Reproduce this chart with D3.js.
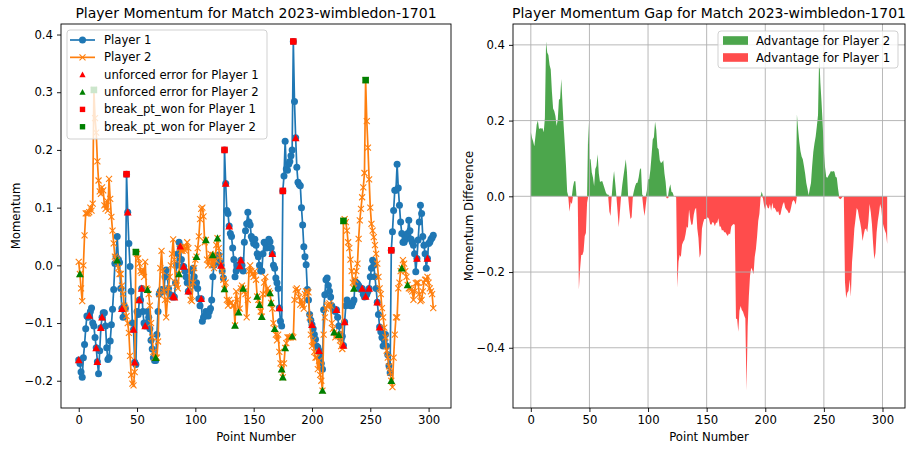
<!DOCTYPE html>
<html lang="en">
<head>
<meta charset="UTF-8">
<title>Player Momentum for Match 2023-wimbledon-1701</title>
<script src="https://d3js.org/d3.v7.min.js"></script>
<style>
  body { margin: 0; background: #fff; }
  svg { font-family: "DejaVu Sans", sans-serif; }
</style>
</head>
<body>
<svg id="chart" width="912" height="449"></svg>
<script>
// momentum of each player, one value per point
const p1 = [
  -0.164,-0.170,-0.185,-0.194,-0.160,-0.137,-0.110,-0.088,-0.090,-0.087,
  -0.080,-0.074,-0.100,-0.105,-0.125,-0.143,-0.167,-0.188,-0.148,-0.108,
  -0.090,-0.082,-0.082,-0.105,-0.143,-0.163,-0.160,-0.131,-0.103,-0.076,
  -0.042,0.003,0.015,0.050,0.010,0.005,-0.040,-0.075,-0.090,-0.070,
  -0.075,0.158,0.092,0.038,-0.002,-0.045,-0.100,-0.111,-0.168,-0.172,
  -0.080,-0.085,-0.060,-0.060,-0.040,-0.080,-0.100,-0.105,-0.100,-0.080,
  -0.090,-0.110,-0.130,-0.145,-0.160,-0.165,-0.165,-0.120,-0.080,-0.050,
  -0.045,-0.042,-0.045,-0.045,-0.020,-0.008,-0.020,-0.040,-0.050,-0.053,
  -0.055,-0.053,-0.055,-0.030,0.000,0.020,0.040,0.033,0.010,-0.002,
  -0.002,-0.010,-0.020,-0.030,-0.045,-0.045,-0.030,-0.010,-0.005,-0.020,
  -0.035,-0.030,-0.040,-0.058,-0.070,-0.058,-0.097,-0.090,-0.088,-0.080,
  -0.085,-0.088,-0.080,-0.075,-0.060,-0.020,0.000,0.015,0.015,0.015,
  0.018,0.005,0.000,-0.010,-0.022,0.200,0.142,0.095,0.090,0.068,
  0.055,0.050,0.030,0.010,-0.020,-0.010,0.000,-0.005,-0.001,0.009,
  0.000,-0.010,0.040,0.060,0.072,0.092,0.075,0.070,0.050,0.045,
  0.038,0.045,0.035,0.020,0.015,0.000,-0.010,-0.010,0.020,0.040,
  0.038,0.030,0.040,0.045,0.041,0.030,0.020,0.000,-0.005,-0.022,
  -0.030,-0.040,-0.074,-0.097,-0.105,0.129,0.155,0.215,0.167,0.165,
  0.175,0.180,0.190,0.200,0.388,0.284,0.221,0.170,0.144,0.140,
  0.138,0.100,0.070,0.032,0.015,0.001,-0.042,-0.060,-0.085,-0.095,
  -0.103,-0.110,-0.120,-0.128,-0.140,-0.142,-0.148,-0.158,-0.170,-0.180,
  -0.077,-0.051,-0.025,-0.022,-0.035,-0.045,-0.055,-0.070,-0.075,-0.078,
  -0.080,-0.077,-0.090,-0.105,-0.120,-0.126,-0.123,-0.139,-0.098,-0.070,
  -0.060,-0.065,-0.068,-0.070,-0.070,-0.065,-0.060,-0.028,-0.030,-0.032,
  -0.035,-0.040,-0.042,-0.040,-0.050,-0.055,-0.054,-0.050,-0.045,-0.040,
  -0.020,-0.005,0.009,0.000,-0.020,-0.040,-0.064,-0.085,-0.107,-0.115,
  -0.125,-0.140,-0.130,-0.120,-0.140,-0.155,-0.174,-0.186,0.026,0.058,
  0.095,0.130,0.130,0.175,0.134,0.104,0.075,0.055,0.040,0.040,
  0.045,0.050,0.055,0.078,0.060,0.045,0.040,0.035,0.020,-0.011,
  0.012,0.044,0.075,0.104,0.090,0.050,0.035,0.020,-0.005,0.012,
  0.038,0.040,0.045,0.048,0.052
];
const p2 = [
  0.006,-0.015,-0.040,-0.062,0.000,0.052,0.090,0.090,0.090,0.092,
  0.100,0.095,0.107,0.304,0.255,0.230,0.180,0.147,0.128,0.124,
  0.135,0.130,0.104,0.098,0.112,0.095,0.150,0.115,0.084,0.060,
  0.038,0.015,0.012,0.009,-0.005,-0.015,-0.015,-0.035,-0.050,-0.070,
  -0.075,-0.088,-0.100,-0.117,-0.157,-0.190,-0.205,-0.208,-0.185,0.023,
  0.020,0.012,0.003,-0.010,-0.013,-0.008,-0.020,0.006,-0.040,-0.042,
  -0.050,-0.070,-0.100,-0.125,-0.150,-0.160,-0.160,-0.160,-0.132,-0.050,
  -0.005,0.025,-0.010,-0.045,-0.060,-0.090,-0.060,-0.040,-0.020,0.000,
  0.020,0.045,0.010,-0.030,-0.035,-0.040,-0.015,0.030,0.025,0.025,
  0.033,0.026,0.030,0.040,0.030,-0.040,-0.060,-0.062,-0.030,-0.005,
  0.010,0.015,0.030,0.050,0.080,0.098,0.100,0.085,0.040,0.044,
  0.010,0.000,0.010,0.020,0.000,0.018,-0.005,0.010,0.035,0.047,
  0.030,0.015,0.000,-0.010,-0.025,-0.041,-0.030,-0.060,-0.070,-0.060,
  -0.065,-0.065,-0.070,-0.070,-0.104,-0.045,-0.060,-0.081,-0.075,-0.040,
  -0.035,-0.040,-0.045,-0.050,-0.090,-0.060,-0.010,0.000,-0.010,-0.015,
  -0.020,-0.010,-0.025,-0.054,-0.060,-0.068,-0.080,-0.089,-0.050,-0.030,
  -0.020,-0.050,-0.040,-0.045,-0.048,-0.065,-0.075,-0.100,-0.110,-0.120,
  -0.130,-0.120,-0.150,-0.170,-0.180,-0.194,-0.170,-0.143,-0.135,-0.125,
  -0.125,-0.125,-0.125,-0.123,-0.125,-0.060,-0.042,-0.040,-0.045,-0.055,
  -0.068,-0.060,-0.070,-0.075,-0.050,-0.045,-0.045,-0.047,-0.090,-0.120,
  -0.140,-0.130,-0.150,-0.160,-0.160,-0.180,-0.165,-0.190,-0.200,-0.217,
  -0.120,-0.090,-0.075,-0.070,-0.068,-0.066,-0.070,-0.100,-0.110,-0.116,
  -0.125,-0.120,-0.120,-0.120,-0.130,-0.140,-0.145,0.077,0.080,0.075,
  0.060,0.040,0.030,0.010,-0.010,-0.030,-0.040,-0.025,-0.010,0.003,
  0.046,0.078,0.098,0.118,0.135,0.160,0.321,0.250,0.204,0.149,
  0.100,0.072,0.060,0.049,0.035,0.020,0.003,-0.020,-0.040,-0.050,
  -0.074,-0.090,-0.108,-0.125,-0.148,-0.160,-0.175,-0.186,-0.200,-0.211,
  -0.160,-0.120,-0.090,-0.090,-0.040,-0.030,-0.010,-0.005,0.009,0.003,
  -0.010,-0.020,-0.034,-0.040,-0.040,-0.042,-0.045,-0.060,-0.045,-0.031,
  -0.030,-0.030,-0.050,-0.062,-0.060,-0.045,-0.030,-0.025,-0.025,-0.020,
  -0.030,-0.040,-0.045,-0.050,-0.074
];

// point numbers where events happened
const ueP1 = [0, 9, 15, 16, 19, 20, 37, 42, 47, 48, 52, 54, 57, 81, 82, 87, 90, 94, 105, 122,
              126, 129, 138, 139, 166, 172, 186, 200, 206, 221, 227, 228, 243, 246, 249, 256, 258, 290, 299];
const ueP2 = [1, 33, 59, 66, 86, 101, 109, 115, 119, 125, 134, 137, 141, 153, 155, 157, 164, 165,
              168, 174, 175, 177, 183, 209, 219, 223, 236, 268, 277, 282];
const bpP1 = [41, 125, 175, 184, 268];
const bpP2 = [13, 49, 227, 246];

const xTicks = [0, 50, 100, 150, 200, 250, 300];
const yTicksLeft = [-0.2, -0.1, 0.0, 0.1, 0.2, 0.3, 0.4];
const yTicksRight = [-0.4, -0.2, 0.0, 0.2, 0.4];

const BLUE = "#1f77b4", ORANGE = "#ff7f0e";
const FS = 11.7;

// gap = player 2 minus player 1
const gap = p1.map((v, i) => p2[i] - v);

const svg = d3.select("#chart");
const left = { x0: 61, x1: 451, y0: 24, y1: 408 };
const right = { x0: 513, x1: 905, y0: 24, y1: 408 };

// matplotlib-like 5% margins
function pad(ext) {
  const r = ext[1] - ext[0];
  return [ext[0] - 0.05 * r, ext[1] + 0.05 * r];
}

const xL = d3.scaleLinear().domain(pad([0, p1.length - 1])).range([left.x0, left.x1]);
const yL = d3.scaleLinear().domain(pad(d3.extent(p1.concat(p2)))).range([left.y1, left.y0]);
const xR = d3.scaleLinear().domain(pad([0, gap.length - 1])).range([right.x0, right.x1]);
const yR = d3.scaleLinear().domain(pad(d3.extent(gap))).range([right.y1, right.y0]);

function drawAxes(box, xs, ys, yTicks, grid) {
  if (grid) {
    const gg = svg.append("g").attr("class", "grid");
    gg.selectAll("line.gx").data(xTicks).enter().append("line")
      .attr("x1", d => xs(d)).attr("x2", d => xs(d))
      .attr("y1", box.y0).attr("y2", box.y1)
      .attr("stroke", "#b0b0b0").attr("stroke-width", 0.9);
    gg.selectAll("line.gy").data(yTicks).enter().append("line")
      .attr("y1", d => ys(d)).attr("y2", d => ys(d))
      .attr("x1", box.x0).attr("x2", box.x1)
      .attr("stroke", "#b0b0b0").attr("stroke-width", 0.9);
  }
  const gx = svg.append("g")
    .attr("transform", `translate(0,${box.y1})`)
    .call(d3.axisBottom(xs).tickValues(xTicks).tickSize(4).tickPadding(4).tickFormat(d3.format("d")));
  const gy = svg.append("g")
    .attr("transform", `translate(${box.x0},0)`)
    .call(d3.axisLeft(ys).tickValues(yTicks).tickSize(4).tickPadding(4).tickFormat(d3.format(".1f")));
  [gx, gy].forEach(g => {
    g.select(".domain").remove();
    g.attr("font-family", "DejaVu Sans").attr("font-size", FS);
    g.selectAll("text").attr("fill", "#000");
    g.selectAll("line").attr("stroke-width", 0.9);
  });
  svg.append("rect")
    .attr("x", box.x0).attr("y", box.y0)
    .attr("width", box.x1 - box.x0).attr("height", box.y1 - box.y0)
    .attr("fill", "none").attr("stroke", "#000").attr("stroke-width", 0.9);
}

// ---------- left: momentum lines ----------
const line = d3.line().x((d, i) => xL(i)).y(d => yL(d));

svg.append("path").datum(p1).attr("d", line)
  .attr("fill", "none").attr("stroke", BLUE).attr("stroke-width", 1.7);
svg.selectAll("circle.p1").data(p1).enter().append("circle")
  .attr("cx", (d, i) => xL(i)).attr("cy", d => yL(d)).attr("r", 3.5)
  .attr("fill", BLUE);

svg.append("path").datum(p2).attr("d", line)
  .attr("fill", "none").attr("stroke", ORANGE).attr("stroke-width", 1.7);
const xm = 3;
svg.selectAll("path.p2").data(p2).enter().append("path")
  .attr("d", (d, i) => {
    const cx = xL(i), cy = yL(d);
    return `M${cx - xm},${cy - xm}L${cx + xm},${cy + xm}M${cx - xm},${cy + xm}L${cx + xm},${cy - xm}`;
  })
  .attr("stroke", ORANGE).attr("stroke-width", 1.1).attr("fill", "none");

function tri(cx, cy, s) {
  return `M${cx},${cy - s}L${cx - s},${cy + s * 0.85}L${cx + s},${cy + s * 0.85}Z`;
}
function sq(cx, cy, s) {
  return `M${cx - s},${cy - s}h${2 * s}v${2 * s}h${-2 * s}Z`;
}

function events(idx, series, shape, color) {
  svg.append("g").selectAll("path").data(idx).enter().append("path")
    .attr("d", i => shape(xL(i), yL(series[i]), shape === tri ? 3.9 : 3.3))
    .attr("fill", color);
}
events(ueP1, p1, tri, "red");
events(ueP2, p2, tri, "green");
events(bpP1, p1, sq, "red");
events(bpP2, p2, sq, "green");

drawAxes(left, xL, yL, yTicksLeft, false);

// legend (left)
const legL = svg.append("g");
legL.append("rect").attr("x", 67).attr("y", 30).attr("width", 200).attr("height", 109)
  .attr("rx", 3).attr("fill", "#fff").attr("fill-opacity", 0.8)
  .attr("stroke", "#cccccc").attr("stroke-width", 0.9);
const legItems = [
  { label: "Player 1", kind: "p1" },
  { label: "Player 2", kind: "p2" },
  { label: "unforced error for Player 1", kind: "tri", color: "red" },
  { label: "unforced error for Player 2", kind: "tri", color: "green" },
  { label: "break_pt_won for Player 1", kind: "sq", color: "red" },
  { label: "break_pt_won for Player 2", kind: "sq", color: "green" }
];
legItems.forEach((it, k) => {
  const y = 40 + k * 17.35, cx = 82.5;
  if (it.kind === "p1") {
    legL.append("line").attr("x1", 70).attr("x2", 95).attr("y1", y).attr("y2", y)
      .attr("stroke", BLUE).attr("stroke-width", 1.7);
    legL.append("circle").attr("cx", cx).attr("cy", y).attr("r", 3.5).attr("fill", BLUE);
  } else if (it.kind === "p2") {
    legL.append("line").attr("x1", 70).attr("x2", 95).attr("y1", y).attr("y2", y)
      .attr("stroke", ORANGE).attr("stroke-width", 1.7);
    legL.append("path")
      .attr("d", `M${cx - xm},${y - xm}L${cx + xm},${y + xm}M${cx - xm},${y + xm}L${cx + xm},${y - xm}`)
      .attr("stroke", ORANGE).attr("stroke-width", 1.1);
  } else if (it.kind === "tri") {
    legL.append("path").attr("d", tri(cx, y, 3.1)).attr("fill", it.color);
  } else {
    legL.append("path").attr("d", sq(cx, y, 2.7)).attr("fill", it.color);
  }
  legL.append("text").attr("x", 104).attr("y", y).attr("dy", "0.35em")
    .attr("font-size", FS).attr("fill", "#000").text(it.label);
});

// labels (left)
svg.append("text").attr("x", (left.x0 + left.x1) / 2).attr("y", 18)
  .attr("text-anchor", "middle").attr("font-size", 14).text("Player Momentum for Match 2023-wimbledon-1701");
svg.append("text").attr("x", (left.x0 + left.x1) / 2).attr("y", 441)
  .attr("text-anchor", "middle").attr("font-size", FS).text("Point Number");
svg.append("text").attr("transform", `translate(20,${(left.y0 + left.y1) / 2}) rotate(-90)`)
  .attr("text-anchor", "middle").attr("font-size", FS).text("Momentum");

// ---------- right: momentum gap ----------
const areaPos = d3.area().x((d, i) => xR(i)).y0(yR(0)).y1(d => yR(Math.max(d, 0)));
const areaNeg = d3.area().x((d, i) => xR(i)).y0(yR(0)).y1(d => yR(Math.min(d, 0)));
svg.append("path").datum(gap).attr("d", areaPos).attr("fill", "green").attr("fill-opacity", 0.7);
svg.append("path").datum(gap).attr("d", areaNeg).attr("fill", "red").attr("fill-opacity", 0.7);

drawAxes(right, xR, yR, yTicksRight, true);

const legR = svg.append("g");
legR.append("rect").attr("x", 718).attr("y", 31).attr("width", 180).attr("height", 37)
  .attr("rx", 3).attr("fill", "#fff").attr("fill-opacity", 0.8)
  .attr("stroke", "#cccccc").attr("stroke-width", 0.9);
[["Advantage for Player 2", "green"], ["Advantage for Player 1", "red"]].forEach((it, k) => {
  const y = 40.5 + k * 17;
  legR.append("rect").attr("x", 723).attr("y", y - 4.3).attr("width", 25).attr("height", 8.6)
    .attr("fill", it[1]).attr("fill-opacity", 0.7);
  legR.append("text").attr("x", 756).attr("y", y).attr("dy", "0.35em")
    .attr("font-size", FS).text(it[0]);
});

svg.append("text").attr("x", (right.x0 + right.x1) / 2).attr("y", 18)
  .attr("text-anchor", "middle").attr("font-size", 14).text("Player Momentum Gap for Match 2023-wimbledon-1701");
svg.append("text").attr("x", (right.x0 + right.x1) / 2).attr("y", 441)
  .attr("text-anchor", "middle").attr("font-size", FS).text("Point Number");
svg.append("text").attr("transform", `translate(473,${(right.y0 + right.y1) / 2}) rotate(-90)`)
  .attr("text-anchor", "middle").attr("font-size", FS).text("Momentum Difference");
</script>
</body>
</html>
